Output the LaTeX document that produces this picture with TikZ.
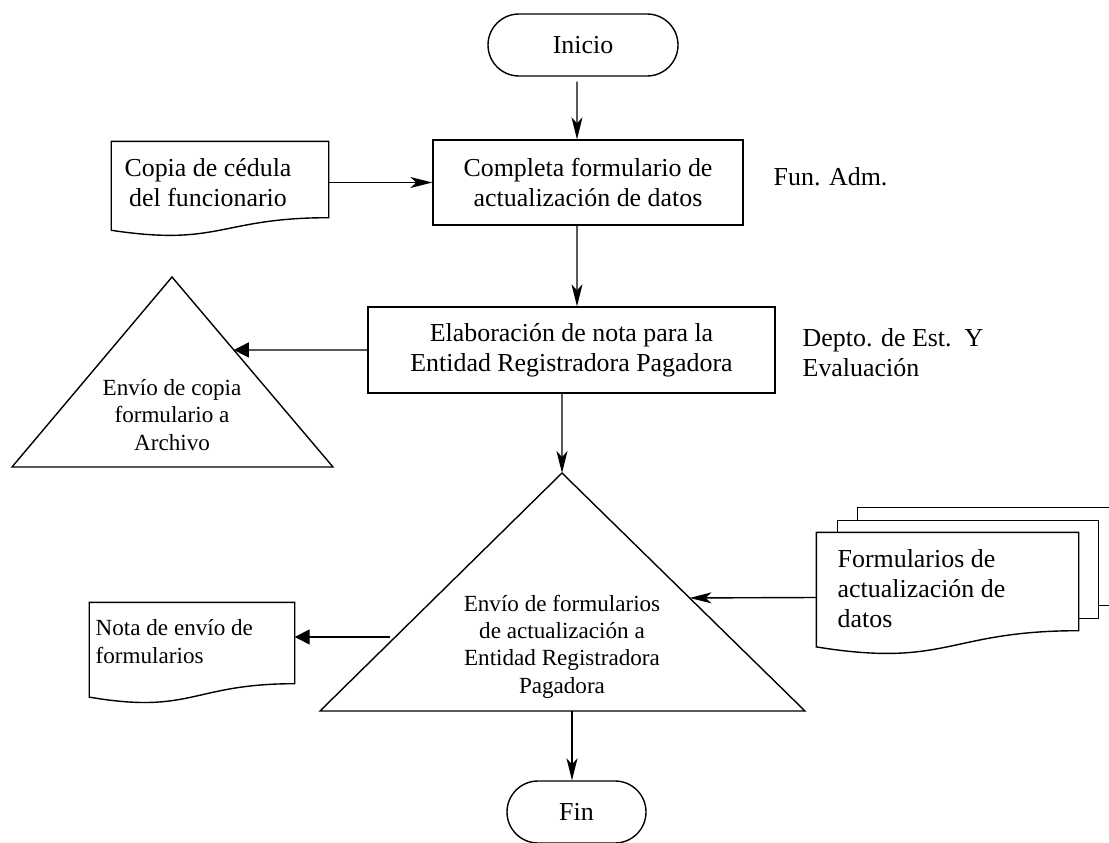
\documentclass[tikz,border=0pt]{standalone}
\usepackage{fontspec}
\setmainfont{Liberation Serif}
\newfontfamily\tnr{Liberation Serif}
\usetikzlibrary{arrows.meta,calc,shapes.misc}
\newcommand\docpath[1]{\draw let \p1=(#1.north west), \p2=(#1.south east), \n1={(\y1-\y2)/0.802} in (\p1) -- (\x2,\y1) -- (\p2) .. controls ({(\x1+\x2)/2},\y2) and ({(\x1+\x2)/2},{\y1-1.1075*\n1}) .. (\x1,{\y1-0.934*\n1}) -- cycle;}
\begin{document}
\begin{tikzpicture}[x=1bp,y=-1bp,
 line width=1.4bp,
 big/.style={font=\tnr\fontsize{26}{30}\selectfont},
 small/.style={font=\tnr\fontsize{23.2}{27.5}\selectfont},
 procbox/.style={draw, rectangle, big, align=center, inner sep=0},
 term/.style={draw, rounded rectangle, big, inner sep=0},
 docbox/.style={rectangle, inner sep=0},
 flow/.style={-{Stealth[length=22bp,width=11bp,inset=6bp]}},
 outarr/.style={-{Triangle[length=15bp,width=15bp]}}]
\useasboundingbox (0,0) rectangle (1109,843);

% terminators and processes
\node[term, minimum width=190bp, minimum height=62bp] (ini) at (583,45) {Inicio};
\node[procbox, minimum width=310bp, minimum height=85bp] (b1) at (588,182.5) {Completa formulario de\\actualización de datos};
\node[procbox, minimum width=407bp, minimum height=86bp] (b2) at (571.5,350) {Elaboración de nota para la\\Entidad Registradora Pagadora};
\node[term, minimum width=139bp, minimum height=62bp] (fin) at (576.5,812) {Fin};

% documents
\node[docbox, minimum width=216bp, minimum height=75bp] (cd) at (220,179.5) {};
\docpath{cd}
\node[big, align=center, inner sep=0] (cdt) at (208,183) {Copia de cédula\\del funcionario};

\node[docbox, minimum width=204bp, minimum height=80bp] (nd) at (192,643) {};
\docpath{nd}
\node[small, align=left, inner sep=0, anchor=west] (ndt) at (95,641.5) {Nota de envío de\\formularios};

\node[docbox, minimum width=261bp, minimum height=97bp] (fd) at (947.5,581.5) {};
\docpath{fd}
\draw let \p1=(fd.north west), \p2=(fd.south east) in
 (\x1+21bp,\y1) -- (\x1+21bp,\y1+12bp) -- (\x2+20bp,\y1+12bp) -- (\x2+20bp,\y2+12bp) -- (\x2,\y2+12bp)
 (\x1+41bp,\y1+12bp) -- (\x1+41bp,\y1+25bp) -- (\x2+40bp,\y1+25bp) -- (\x2+40bp,\y2+25bp) -- (\x2+20bp,\y2+25bp);
\node[big, align=left, inner sep=0, anchor=west] (fdt) at (837,588.5) {Formularios de\\actualización de\\datos};

% triangles
\coordinate (t1a) at (172,277);
\coordinate (t1l) at (12,467);
\coordinate (t1r) at (333,467);
\draw (t1a) -- (t1r) -- (t1l) -- cycle;
\node[small, align=center, inner sep=0] (t1t) at (172,415) {Envío de copia\\formulario a\\Archivo};

\coordinate (t2a) at (562,473);
\coordinate (t2l) at (320,711);
\coordinate (t2r) at (805,711);
\draw (t2a) -- (t2r) -- (t2l) -- cycle;
\node[small, align=center, inner sep=0] (t2t) at (562,646.5) {Envío de formularios\\de actualización a\\Entidad Registradora\\Pagadora};

% labels
\node[big, anchor=west, inner sep=0] (lab1) at (773,177) {Fun. Adm.};
\node[big, align=left, anchor=west, inner sep=0] (lab2) at (802,353) {Depto. de Est.\ \ Y\\Evaluación};

% connectors
\draw[flow] ([xshift=-6bp,yshift=-5bp]ini.south) -- ([xshift=-11bp]b1.north);
\draw[flow] ([xshift=-11bp]b1.south) -- ([xshift=5.5bp]b2.north);
\draw[flow] ([xshift=-9.5bp]b2.south) -- (t2a);
\draw[flow] (b1.west -| cd.east) -- (b1.west);
\draw[outarr] (b2.west) -- ($(t1a)!0.384!(t1r)$);
\draw[flow] ([yshift=-16bp]fd.west) -- ($(t2a)!0.525!(t2r)$);
\coordinate (p3) at ($(t2a)!0.689!(t2l)+(-5,0)$);
\draw[outarr] (p3) -- (p3 -| nd.east);
\draw[flow] ([xshift=-4.5bp]fin.north |- t2l) -- ([xshift=-4.5bp]fin.north);
\end{tikzpicture}
\end{document}
